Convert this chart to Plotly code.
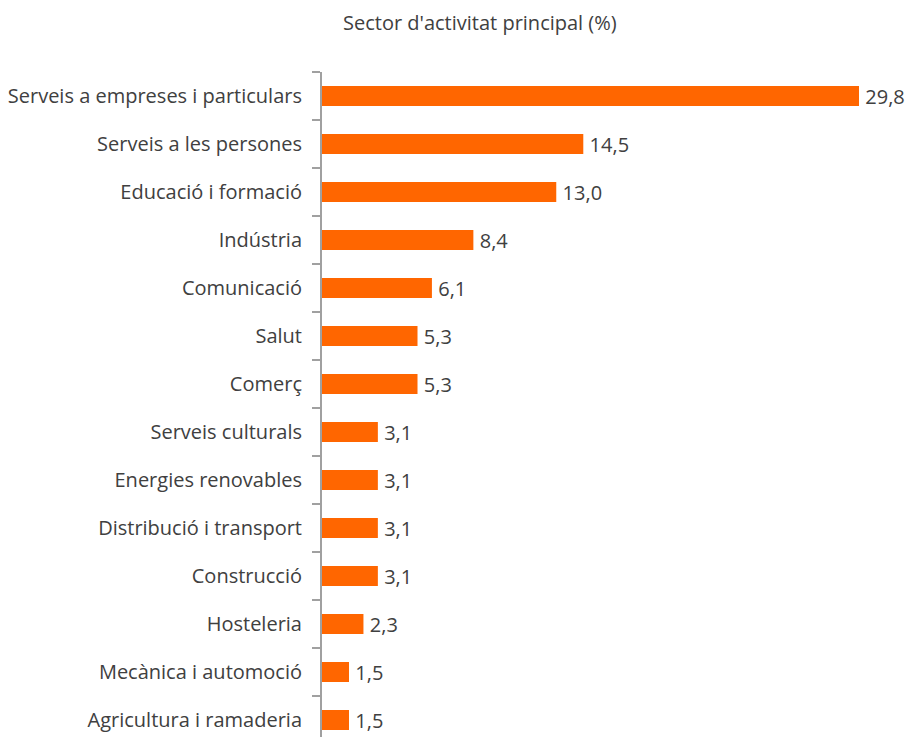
import plotly.graph_objects as go

categories = ["Serveis a empreses i particulars", "Serveis a les persones", "Educació i formació",
              "Indústria", "Comunicació", "Salut", "Comerç", "Serveis culturals",
              "Energies renovables", "Distribució i transport", "Construcció", "Hosteleria",
              "Mecànica i automoció", "Agricultura i ramaderia"]
values = [29.8, 14.5, 13.0, 8.4, 6.1, 5.3, 5.3, 3.1, 3.1, 3.1, 3.1, 2.3, 1.5, 1.5]
title_text = "Sector d'activitat principal (%)"

W, H = 909, 737
left, right, top = 322, 0, 72
PX_PER_UNIT = 18.02
FS = 20
fig = go.Figure(go.Bar(
    x=values, y=categories, orientation="h",
    marker=dict(color="#FF6600", line=dict(width=0)),
    width=20/48,
    text=values, texttemplate="\u2009%{x:.1f}", textposition="outside",
    constraintext="none",
    textfont=dict(size=FS, color="#404040"), cliponaxis=False,
))
fig.update_layout(
    template="none",
    width=W, height=H, separators=",.",
    margin=dict(l=left, r=right, t=top, b=0, pad=0, autoexpand=False),
    paper_bgcolor="white", plot_bgcolor="white",
    font=dict(family="Open Sans, sans-serif", size=FS, color="#404040"),
    showlegend=False,
    annotations=[dict(text=title_text, xref="paper", yref="paper",
                      x=(480 - left)/(W-left-right), xanchor="center",
                      y=1, yshift=50, yanchor="middle",
                      showarrow=False, font=dict(size=FS, color="#404040"))],
)
fig.update_xaxes(range=[0, (W-left-right)/PX_PER_UNIT], visible=False, automargin=False)
fig.update_yaxes(type="category", autorange=False, automargin=False,
                 range=[-0.5 + (H-top)/48, -0.5],
                 showline=True, linecolor="#A0A0A0", linewidth=2,
                 ticks="outside", tickson="boundaries", ticklen=8, tickcolor="#A0A0A0", tickwidth=2,
                 ticklabelstandoff=14, showgrid=False, zeroline=False)
fig.write_html("out.html", config={"displayModeBar": False},
               post_script="document.body.style.margin='0';document.body.style.overflow='hidden';")
